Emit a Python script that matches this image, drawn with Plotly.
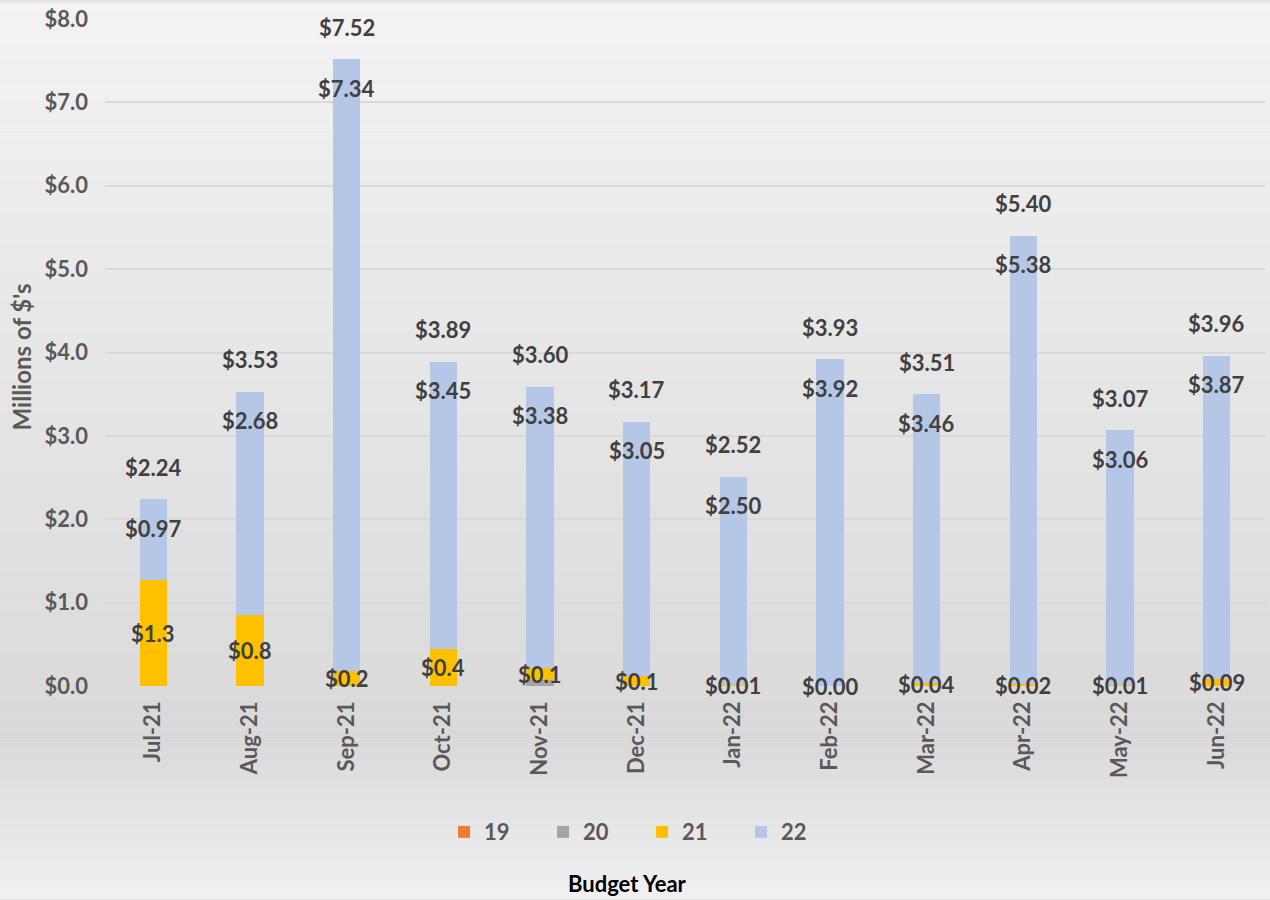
import plotly.graph_objects as go

# ---------------- data ----------------
months = ["Jul-21", "Aug-21", "Sep-21", "Oct-21", "Nov-21", "Dec-21",
          "Jan-22", "Feb-22", "Mar-22", "Apr-22", "May-22", "Jun-22"]
fy19 = [0.00, 0.00, 0.00, 0.00, 0.00, 0.00, 0.00, 0.00, 0.00, 0.00, 0.00, 0.00]
fy20 = [0.00, 0.00, 0.00, 0.00, 0.07, 0.00, 0.00, 0.00, 0.00, 0.00, 0.00, 0.00]
fy21 = [1.27, 0.85, 0.18, 0.44, 0.14, 0.12, 0.01, 0.00, 0.04, 0.02, 0.01, 0.09]
fy22 = [0.97, 2.68, 7.34, 3.45, 3.38, 3.05, 2.50, 3.92, 3.46, 5.38, 3.06, 3.87]
total_labels = ["$2.24", "$3.53", "$7.52", "$3.89", "$3.60", "$3.17",
                "$2.52", "$3.93", "$3.51", "$5.40", "$3.07", "$3.96"]
fy21_decimals = [1, 1, 1, 1, 1, 1, 2, 2, 2, 2, 2, 2]
series_names = ["19", "20", "21", "22"]
y_tick_vals = [0, 1, 2, 3, 4, 5, 6, 7, 8]
y_tick_text = ["$0.0", "$1.0", "$2.0", "$3.0", "$4.0", "$5.0", "$6.0", "$7.0", "$8.0"]

# ---------------- style ----------------
FONT = "Lato"
colors = ["#ED7D31", "#A5A5A5", "#FFC000", "#B4C7E7"]
label_color = "#404040"
tick_color = "#595959"
FS = 22

fig = go.Figure()
for name, vals, col in zip(series_names, [fy19, fy20, fy21, fy22], colors):
    fig.add_trace(go.Bar(name=name, x=months, y=vals, marker_color=col,
                         marker_line_width=0))

annotations = []
lab_font = dict(family=FONT, size=FS, color=label_color, weight="bold")
for i, m in enumerate(months):
    base21 = fy19[i] + fy20[i]
    top = fy19[i] + fy20[i] + fy21[i] + fy22[i]
    annotations.append(dict(x=m, y=base21 + fy21[i] / 2, xref="x", yref="y",
                            yanchor="middle", xanchor="center",
                            text=f"${fy21[i]:.{fy21_decimals[i]}f}",
                            showarrow=False, font=lab_font))
    annotations.append(dict(x=m, y=top, xref="x", yref="y", yshift=-29,
                            yanchor="middle", xanchor="center",
                            text=f"${fy22[i]:.2f}", showarrow=False, font=lab_font))
    annotations.append(dict(x=m, y=top, xref="x", yref="y", yshift=32,
                            yanchor="middle", xanchor="center",
                            text=total_labels[i], showarrow=False, font=lab_font))

# axis title & bottom title
annotations.append(dict(x=-0.0716, y=0.494, xref="paper", yref="paper",
                        xanchor="center", yanchor="middle",
                        text="Millions of $'s", textangle=-90, showarrow=False,
                        font=dict(family=FONT, size=24, color=tick_color, weight="bold")))
annotations.append(dict(x=0.45, y=-0.296, xref="paper", yref="paper",
                        xanchor="center", yanchor="middle",
                        text="Budget Year", showarrow=False,
                        font=dict(family=FONT, size=FS, color="#000000", weight="bold")))

# gradient background via strips
PLOT_TOP, PLOT_BOT = 16, 686
H = PLOT_BOT - PLOT_TOP
stops = [(0, 243), (740, 217), (900, 241)]


def grey_at(py):
    for (a, ca), (b, cb) in zip(stops[:-1], stops[1:]):
        if a <= py <= b:
            t = (py - a) / (b - a)
            return round(ca + (cb - ca) * t)
    return stops[-1][1]


shapes = []
step = 10
for k in range(0, 900, step):
    g = grey_at(k + step / 2)
    shapes.append(dict(type="rect", xref="paper", yref="paper",
                       x0=-0.2, x1=1.1,
                       y0=(PLOT_BOT - (k + step)) / H, y1=(PLOT_BOT - k) / H,
                       fillcolor=f"rgb({g},{g},{g})", line=dict(width=0),
                       layer="below"))

fig.update_layout(
    width=1270, height=900,
    barmode="stack", bargap=0.72,
    margin=dict(l=105, r=5, t=PLOT_TOP, b=900 - PLOT_BOT),
    paper_bgcolor="rgb(230,230,230)",
    plot_bgcolor="rgba(0,0,0,0)",
    font=dict(family=FONT, size=FS, color=tick_color),
    shapes=shapes,
    annotations=annotations,
    legend=dict(orientation="h", x=0.463, xanchor="center", y=-0.219,
                yanchor="middle", bgcolor="rgba(0,0,0,0)", traceorder="normal",
                font=dict(family=FONT, size=FS, color=tick_color, weight="bold"),
                entrywidth=54, itemwidth=30),
    showlegend=True,
)
fig.update_xaxes(tickangle=-90, showgrid=False, showline=False, ticks="",
                 ticklabelstandoff=10,
                 tickfont=dict(family=FONT, size=FS, color=tick_color, weight="bold"))
fig.update_yaxes(range=[0, 8], tickvals=y_tick_vals, ticktext=y_tick_text,
                 showgrid=True, gridcolor="#d9d9d9", gridwidth=2,
                 zeroline=False, showline=False, ticks="", ticklabelstandoff=16,
                 tickfont=dict(family=FONT, size=FS, color=tick_color, weight="bold"))

fig.write_html("out.html", config={"displayModeBar": False},
               post_script="document.body.style.margin='0';document.body.style.overflow='hidden';")
